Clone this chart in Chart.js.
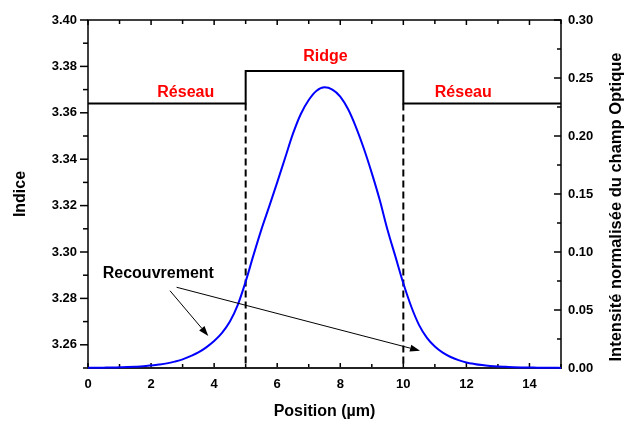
<!DOCTYPE html>
<html>
<head>
<meta charset="utf-8">
<script src="https://cdn.jsdelivr.net/npm/chart.js@4"></script>
<style>
  html, body { margin: 0; padding: 0; background: #fff; }
  #wrap { width: 626px; height: 421px; }
</style>
</head>
<body>
<div id="wrap"><canvas id="c" width="626" height="421"></canvas></div>
<script>
// Normalised optical field intensity across the waveguide (position in µm)
const positions = [
  0.00, 0.25, 0.50, 0.75, 1.00, 1.25, 1.50, 1.75, 2.00, 2.25,
  2.50, 2.75, 3.00, 3.25, 3.50, 3.75, 4.00, 4.25, 4.50, 4.75,
  5.00, 5.25, 5.50, 5.75, 6.00, 6.25, 6.50, 6.75, 7.00, 7.25,
  7.50, 7.75, 8.00, 8.25, 8.50, 8.75, 9.00, 9.25, 9.50, 9.75,
  10.00, 10.25, 10.50, 10.75, 11.00, 11.25, 11.50, 11.75, 12.00, 12.25,
  12.50, 12.75, 13.00, 13.25, 13.50, 13.75, 14.00, 14.25, 14.50, 14.75, 15.00
];
const intensity = [
  0.0002, 0.0002, 0.0003, 0.0004, 0.0006, 0.0008, 0.0011, 0.0015, 0.0022, 0.0030,
  0.0040, 0.0055, 0.0074, 0.0102, 0.0134, 0.0178, 0.0232, 0.0302, 0.0400, 0.0545,
  0.0745, 0.0975, 0.1195, 0.1395, 0.1600, 0.1810, 0.2020, 0.2190, 0.2310, 0.2390,
  0.2420, 0.2400, 0.2340, 0.2230, 0.2075, 0.1890, 0.1680, 0.1450, 0.1190, 0.0960,
  0.0730, 0.0530, 0.0370, 0.0260, 0.0185, 0.0132, 0.0095, 0.0068, 0.0048, 0.0035,
  0.0025, 0.0018, 0.0013, 0.0010, 0.0007, 0.0005, 0.0004, 0.0003, 0.0002, 0.0002, 0.0001
];

// Refractive index profile: grating on both sides, ridge in the middle
const indexPositions = [0, 5, 5, 10, 10, 15];
const indexValues = [3.364, 3.364, 3.378, 3.378, 3.364, 3.364];
const ridgeEdges = [5, 10];

// Axis ranges
const indexRange = [3.25, 3.40];
const intensityRange = [0, 0.30];
const positionRange = [0, 15];

const FONT = '"Liberation Sans", Arial, Helvetica, sans-serif';

function pts(xs, ys) { return xs.map((x, i) => ({ x, y: ys[i] })); }

const datasets = [
  {
    label: 'Indice',
    data: pts(indexPositions, indexValues),
    yAxisID: 'y',
    borderColor: '#000',
    borderWidth: 2,
    pointRadius: 0,
    tension: 0,
    order: 2
  },
  ...ridgeEdges.map(e => ({
    label: 'edge',
    data: [{ x: e, y: indexValues[0] }, { x: e, y: indexRange[0] }],
    yAxisID: 'y',
    borderColor: '#000',
    borderWidth: 2,
    borderDash: [7, 4],
    pointRadius: 0,
    order: 3
  })),
  {
    label: 'Intensité',
    data: pts(positions, intensity),
    yAxisID: 'y2',
    borderColor: '#0000ff',
    borderWidth: 2,
    pointRadius: 0,
    cubicInterpolationMode: 'monotone',
    clip: 4,
    order: 1
  }
];

function drawArrow(ctx, x1, y1, x2, y2) {
  const ang = Math.atan2(y2 - y1, x2 - x1);
  const L = 10, W = 3.5;
  const bx = x2 - L * Math.cos(ang), by = y2 - L * Math.sin(ang);
  ctx.beginPath();
  ctx.moveTo(x1, y1);
  ctx.lineTo(bx, by);
  ctx.stroke();
  ctx.beginPath();
  ctx.moveTo(x2, y2);
  ctx.lineTo(bx + W * Math.sin(ang), by - W * Math.cos(ang));
  ctx.lineTo(bx - W * Math.sin(ang), by + W * Math.cos(ang));
  ctx.closePath();
  ctx.fill();
}

// Frame and tick marks drawn under the curves
const framePlugin = {
  id: 'frame',
  beforeDatasetsDraw(chart) {
    const { ctx, chartArea: a, scales } = chart;
    const { x, y, y2 } = scales;
    ctx.save();
    ctx.strokeStyle = '#000';
    ctx.lineWidth = 1.5;
    ctx.beginPath();
    ctx.moveTo(a.left, a.bottom);
    ctx.lineTo(a.left, a.top);
    ctx.lineTo(a.right, a.top);
    ctx.lineTo(a.right, a.bottom);
    ctx.stroke();

    // left axis: outward ticks
    y.ticks.forEach(t => {
      const py = y.getPixelForValue(t.value);
      const major = Math.round(t.value * 100) % 2 === 0;
      const len = major ? 8 : 5;
      ctx.beginPath();
      ctx.moveTo(a.left - len, py);
      ctx.lineTo(a.left, py);
      ctx.stroke();
    });
    // right axis: inward ticks
    y2.ticks.forEach(t => {
      const py = y2.getPixelForValue(t.value);
      const major = Math.round(t.value * 1000) % 50 === 0;
      const len = major ? 7 : 4;
      ctx.beginPath();
      ctx.moveTo(a.right - len, py);
      ctx.lineTo(a.right, py);
      ctx.stroke();
    });
    // bottom and top: inward ticks
    x.ticks.forEach(t => {
      const px = x.getPixelForValue(t.value);
      const major = Math.round(t.value) % 2 === 0;
      const len = major ? 5 : 4;
      ctx.beginPath();
      ctx.moveTo(px, a.bottom - len);
      ctx.lineTo(px, a.bottom);
      ctx.moveTo(px, a.top);
      ctx.lineTo(px, a.top + len);
      ctx.stroke();
    });

    ctx.strokeStyle = '#222';
    ctx.lineWidth = 2;
    ctx.beginPath();
    ctx.moveTo(a.left - 1, a.bottom);
    ctx.lineTo(a.right + 1, a.bottom);
    ctx.stroke();
    ctx.restore();
  }
};

// Region labels, overlap arrows and the right-hand axis title
const notesPlugin = {
  id: 'notes',
  afterDatasetsDraw(chart) {
    const { ctx, scales } = chart;
    const { x, y, y2 } = scales;
    ctx.save();
    ctx.font = 'bold 16px ' + FONT;
    ctx.textAlign = 'center';
    ctx.textBaseline = 'alphabetic';

    ctx.fillStyle = '#ff0000';
    ctx.fillText('Réseau', x.getPixelForValue(3.1), y.getPixelForValue(3.3667));
    ctx.fillText('Réseau', x.getPixelForValue(11.9), y.getPixelForValue(3.3667));
    ctx.fillText('Ridge', x.getPixelForValue(7.53), y.getPixelForValue(3.3825));

    ctx.fillStyle = '#000';
    ctx.fillText('Recouvrement', x.getPixelForValue(2.23), y2.getPixelForValue(0.0778));

    ctx.strokeStyle = '#000';
    ctx.lineWidth = 1;
    drawArrow(ctx, x.getPixelForValue(2.60), y2.getPixelForValue(0.0666),
                   x.getPixelForValue(3.815), y2.getPixelForValue(0.0276));
    drawArrow(ctx, x.getPixelForValue(2.81), y2.getPixelForValue(0.0696),
                   x.getPixelForValue(10.53), y2.getPixelForValue(0.0149));

    // right axis title, read bottom to top
    ctx.font = 'bold 16.5px ' + FONT;
    ctx.translate(621, 207);
    ctx.rotate(-Math.PI / 2);
    ctx.fillText('Intensité normalisée du champ Optique', 0, 0);
    ctx.restore();
  }
};

new Chart(document.getElementById('c'), {
  type: 'line',
  data: { datasets },
  options: {
    responsive: false,
    animation: false,
    events: [],
    layout: { padding: { top: 20, left: 0, right: 0, bottom: 0 } },
    plugins: { legend: { display: false }, tooltip: { enabled: false } },
    scales: {
      x: {
        type: 'linear',
        min: positionRange[0],
        max: positionRange[1],
        grid: { display: false, drawTicks: false, tickLength: 0 },
        border: { display: false },
        ticks: {
          stepSize: 1,
          autoSkip: false,
          maxRotation: 0,
          padding: 9,
          color: '#000',
          font: { family: FONT, size: 13, weight: 'bold' },
          callback: v => (Math.round(v) % 2 === 0 ? String(Math.round(v)) : '')
        },
        title: {
          display: true,
          text: 'Position (µm)',
          color: '#000',
          font: { family: FONT, size: 16, weight: 'bold' },
          padding: { top: 0, bottom: 0 }
        },
        afterFit(s) { s.height = 53; }
      },
      y: {
        type: 'linear',
        position: 'left',
        min: indexRange[0],
        max: indexRange[1],
        grid: { display: false, drawTicks: false, tickLength: 0 },
        border: { display: false },
        ticks: {
          stepSize: 0.01,
          autoSkip: false,
          padding: 11,
          color: '#000',
          font: { family: FONT, size: 13, weight: 'bold' },
          callback: v => (Math.round(v * 100) % 2 === 0 ? v.toFixed(2) : '')
        },
        title: {
          display: true,
          text: 'Indice',
          color: '#000',
          font: { family: FONT, size: 16, weight: 'bold' },
          padding: { top: 11, bottom: 0 }
        },
        afterFit(s) { s.width = 88; }
      },
      y2: {
        type: 'linear',
        position: 'right',
        min: intensityRange[0],
        max: intensityRange[1],
        grid: { display: false, drawTicks: false, tickLength: 0 },
        border: { display: false },
        ticks: {
          stepSize: 0.025,
          autoSkip: false,
          padding: 7,
          color: '#000',
          font: { family: FONT, size: 13, weight: 'bold' },
          callback: v => (Math.round(v * 1000) % 50 === 0 ? v.toFixed(2) : '')
        },
        afterFit(s) { s.width = 65; }
      }
    }
  },
  plugins: [framePlugin, notesPlugin]
});
</script>
</body>
</html>
